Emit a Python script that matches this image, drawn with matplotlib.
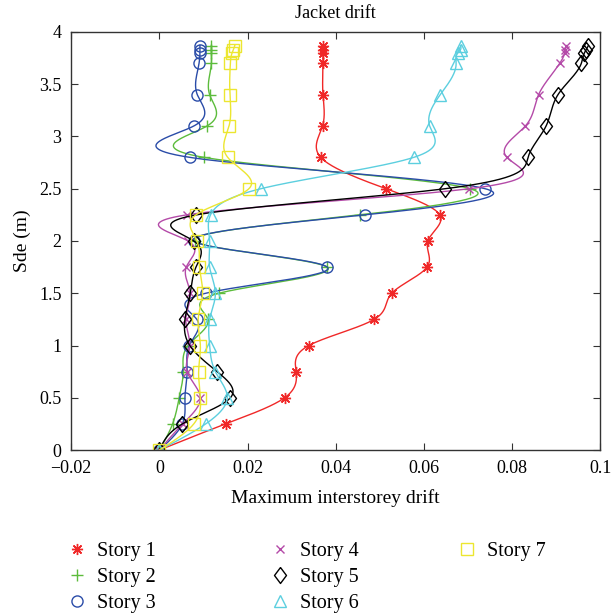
import matplotlib
matplotlib.use("Agg")
import matplotlib.pyplot as plt
import numpy as np

plt.rcParams['font.family'] = ['Liberation Serif', 'DejaVu Serif']

# storey heights (m) at which drift was sampled
heights = [0, 0.25, 0.5, 0.75, 1.0, 1.25, 1.5, 1.75, 2.0, 2.25, 2.5,
           2.8, 3.1, 3.4, 3.7, 3.8, 3.83, 3.87]

story1 = [0, 0.0150, 0.0284, 0.0310, 0.0339, 0.0487, 0.0527, 0.0607, 0.0609,
          0.0636, 0.0514, 0.0366, 0.0370, 0.0371, 0.0371, 0.0371, 0.0371, 0.0371]
story2 = [0, 0.0030, 0.0045, 0.0054, 0.0065, 0.0110, 0.0135, 0.0380, 0.0080,
          0.0455, 0.0705, 0.0101, 0.0108, 0.0114, 0.0118, 0.0118, 0.0118, 0.0118]
story3 = [0, 0.0052, 0.0058, 0.0063, 0.0068, 0.0085, 0.0105, 0.0381, 0.0078,
          0.0466, 0.0739, 0.0069, 0.0078, 0.0086, 0.0090, 0.0092, 0.0092, 0.0092]
story4 = [0, 0.0053, 0.0093, 0.0063, 0.0069, 0.0060, 0.0070, 0.0061, 0.0065,
          0.0062, 0.0703, 0.0788, 0.0830, 0.0860, 0.0908, 0.0919, 0.0920, 0.0923]
story5 = [0, 0.0052, 0.0161, 0.0131, 0.0069, 0.0058, 0.0070, 0.0083, 0.0078,
          0.0084, 0.0648, 0.0836, 0.0877, 0.0904, 0.0957, 0.0964, 0.0968, 0.0973]
story6 = [0, 0.0105, 0.0154, 0.0127, 0.0114, 0.0114, 0.0127, 0.0114, 0.0114,
          0.0116, 0.0230, 0.0577, 0.0613, 0.0637, 0.0673, 0.0677, 0.0683, 0.0683]
story7 = [0, 0.0078, 0.0093, 0.0089, 0.0093, 0.0088, 0.0098, 0.0091, 0.0085,
          0.0083, 0.0203, 0.0155, 0.0158, 0.0160, 0.0161, 0.0165, 0.0168, 0.0171]

labels = ['Story 1', 'Story 2', 'Story 3', 'Story 4', 'Story 5', 'Story 6', 'Story 7']
xtick_vals = [-0.02, 0, 0.02, 0.04, 0.06, 0.08, 0.1]
xtick_labels = ['\u22120.02', '0', '0.02', '0.04', '0.06', '0.08', '0.1']
ytick_vals = [0, 0.5, 1, 1.5, 2, 2.5, 3, 3.5, 4]
ytick_labels = ['0', '0.5', '1', '1.5', '2', '2.5', '3', '3.5', '4']

# matlab style diamond (a bit taller than wide)
diamond = [(0, 1), (0.75, 0), (0, -1), (-0.75, 0), (0, 1)]

# colour, marker, size (matlab-like: * + o x d ^ s)
styles = [
    ('#f02828', (8, 2, 0), 8),
    ('#5cbc3c', '+', 9),
    ('#2a4ca8', 'o', 8),
    ('#b44aa8', 'x', 6),
    ('#000000', diamond, 11.5),
    ('#5ccfdf', '^', 9),
    ('#ece630', 's', 8),
]


def natural_spline(t, v, tt):
    """ natural cubic spline of v(t), evaluated on tt """
    t = np.asarray(t, float)
    v = np.asarray(v, float)
    n = len(t)
    h = np.diff(t)
    A = np.zeros((n, n))
    b = np.zeros(n)
    A[0, 0] = 1
    A[-1, -1] = 1
    for i in range(1, n - 1):
        A[i, i - 1] = h[i - 1]
        A[i, i] = 2 * (h[i - 1] + h[i])
        A[i, i + 1] = h[i]
        b[i] = 6 * ((v[i + 1] - v[i]) / h[i] - (v[i] - v[i - 1]) / h[i - 1])
    M = np.linalg.solve(A, b)
    idx = np.clip(np.searchsorted(t, tt) - 1, 0, n - 2)
    t0, t1 = t[idx], t[idx + 1]
    hh = t1 - t0
    a = (t1 - tt) / hh
    c = (tt - t0) / hh
    return (a * v[idx] + c * v[idx + 1]
            + ((a ** 3 - a) * M[idx] + (c ** 3 - c) * M[idx + 1]) * hh ** 2 / 6)


fig = plt.figure(figsize=(6.11, 6.14), dpi=100)
ax = fig.add_axes([0.1165, 0.267, 0.866, 0.681])

yy = np.linspace(heights[0], heights[-1], 800)
series = [story1, story2, story3, story4, story5, story6, story7]
handles = []
for data, label, (color, marker, ms) in zip(series, labels, styles):
    xx = natural_spline(heights, data, yy)
    ax.plot(xx, yy, color=color, lw=1.0)
    h, = ax.plot(data, heights, linestyle='none', marker=marker, ms=ms,
                 mfc='none', mec=color, mew=1.0, label=label)
    handles.append(h)

ax.set_xlim(-0.02, 0.1)
ax.set_ylim(0, 4)
ax.set_xticks(xtick_vals)
ax.set_xticklabels(xtick_labels)
ax.set_yticks(ytick_vals)
ax.set_yticklabels(ytick_labels)
ax.tick_params(direction='in', top=True, right=True, labelsize=13, length=5,
               color='#333333')
ax.tick_params(axis='x', pad=7)
ax.tick_params(axis='y', pad=7)
for s in ax.spines.values():
    s.set_color('#333333')
    s.set_linewidth(1.0)

ax.set_title('Jacket drift', fontsize=13, pad=10)
ax.set_xlabel('Maximum interstorey drift', fontsize=14, labelpad=9)
ax.set_ylabel('Sde (m)', fontsize=14, labelpad=6)

# legend in three columns (3, 3, 1 entries)
col_x = [0.110, 0.442, 0.748]
groups = [handles[0:3], handles[3:6], handles[6:7]]
for x0, grp in zip(col_x, groups):
    fig.legend(handles=grp, loc='upper left', bbox_to_anchor=(x0, 0.118),
               frameon=False, fontsize=14.5, handletextpad=0.5,
               labelspacing=0.36, handlelength=1.0, borderpad=0,
               borderaxespad=0)

fig.savefig('out.png', dpi=100)
